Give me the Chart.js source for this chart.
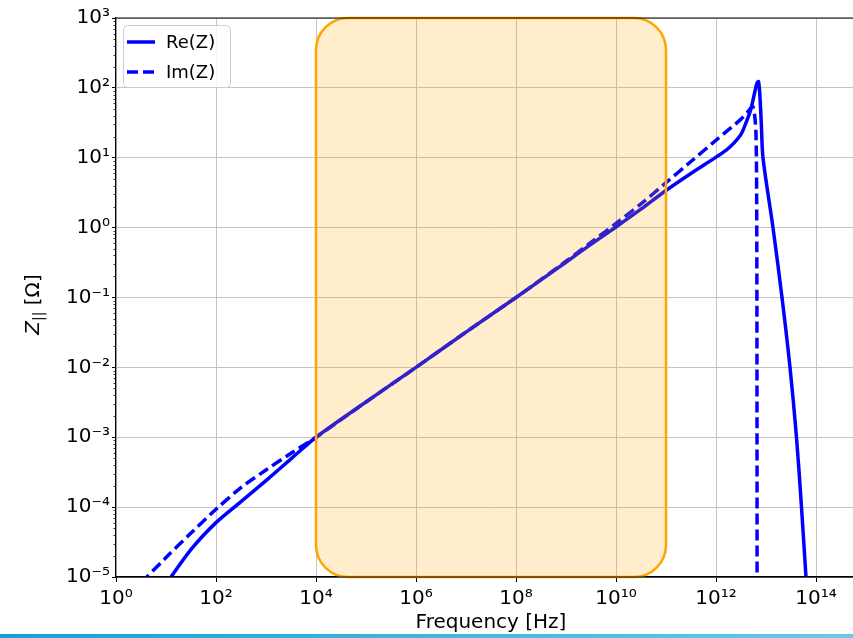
<!DOCTYPE html>
<html>
<head>
<meta charset="utf-8">
<title>Longitudinal impedance</title>
<script src="https://cdn.jsdelivr.net/npm/chart.js@4.4.1/dist/chart.umd.min.js"></script>
<style>
  html, body { margin: 0; padding: 0; background: #fff; overflow: hidden; }
  #wrap { position: relative; width: 853px; height: 638px; overflow: hidden; }
  #wrap canvas { position: absolute; left: 0; top: 0; }
  #strip { position: absolute; left: 0; right: 0; bottom: 0; height: 4px;
           background: linear-gradient(to right, #17a0d4, #66cbea); }
</style>
</head>
<body>
<div id="wrap">
  <canvas id="impChart" width="900" height="638"></canvas>
  <div id="strip"></div>
</div>
<script>
// impedance curves, Z in Ohm vs frequency in Hz
const reFreq = [10, 32, 100, 316, 1e3, 3.16e3, 1e4, 1e5, 1e6, 1e7, 1e8, 1e9,
                3.2e9, 1e10, 3.2e10, 1e11, 3.2e11, 1e12, 1.6e12, 2.2e12, 3.2e12,
                4.0e12, 5.0e12, 6.0e12, 6.6e12, 7.1e12, 7.6e12, 8.1e12, 8.7e12,
                1.38e13, 2.09e13, 3.02e13, 4.07e13, 5.13e13, 6.31e13, 7.2e13];
const reVals = [7.9e-6, 2.5e-5, 6.0e-5, 1.2e-4, 2.4e-4, 4.9e-4, 1.0e-3, 3.2e-3,
                1.0e-2, 3.2e-2, 0.10, 0.32, 0.58, 1.02, 1.85, 3.4, 6.0, 10.2,
                12.9, 15.8, 22, 32, 50, 89, 117, 123, 71, 28, 10,
                1.0, 0.1, 0.01, 1e-3, 1e-4, 1e-5, 2.8e-6];

const imFreq = [3.2, 10, 32, 100, 316, 1e3, 3.16e3, 1e4, 1e5, 1e6, 1e7, 1e8, 1e9,
                3.2e9, 1e10, 3.2e10, 1e11, 3.2e11, 1e12, 2.0e12, 3.2e12, 4.5e12,
                5.4e12, 5.9e12, 6.3e12, 6.5e12, 6.6e12, 6.64e12];
const imVals = [8.3e-6, 1.9e-5, 4.3e-5, 9.3e-5, 1.9e-4, 3.4e-4, 5.9e-4, 1.0e-3,
                3.2e-3, 1.0e-2, 3.2e-2, 0.10, 0.33, 0.62, 1.15, 2.2, 4.4, 8.9, 17.8,
                27, 36, 47, 54, 42, 22, 3.2, 1e-2, 1e-7];

// highlighted frequency band
const bandRange = [1e4, 1e11];

const xTickValues = [1, 1e2, 1e4, 1e6, 1e8, 1e10, 1e12, 1e14];
const yTickValues = [1e-5, 1e-4, 1e-3, 1e-2, 1e-1, 1, 1e1, 1e2, 1e3];

const FONT = "'DejaVu Sans', sans-serif";
const BLUE = '#0000ff';

const sup = { '0': '⁰', '1': '¹', '2': '²', '3': '³', '4': '⁴', '5': '⁵',
              '6': '⁶', '7': '⁷', '8': '⁸', '9': '⁹', '-': '⁻' };
function pow10Label(v) {
    const e = Math.round(Math.log10(v));
    return '10' + String(e).split('').map(c => sup[c]).join('');
}

function toPoints(xs, ys) {
    return xs.map((x, i) => ({ x: x, y: ys[i] }));
}

const decor = {
    id: 'decor',
    afterDatasetsDraw(chart) {
        // translucent orange band over the curves
        const { ctx, chartArea: a, scales: { x } } = chart;
        const x1 = x.getPixelForValue(bandRange[0]);
        const x2 = x.getPixelForValue(bandRange[1]);
        ctx.save();
        ctx.beginPath();
        ctx.roundRect(x1, a.top, x2 - x1, a.bottom - a.top, 32);
        ctx.fillStyle = 'rgba(255,165,0,0.2)';
        ctx.fill();
        ctx.lineWidth = 2.5;
        ctx.strokeStyle = '#ffa500';
        ctx.stroke();
        ctx.restore();
    },
    afterDraw(chart) {
        const { ctx, chartArea: a, scales: { y } } = chart;
        ctx.save();

        // spines
        ctx.strokeStyle = '#000';
        ctx.lineWidth = 1.2;
        ctx.beginPath();
        ctx.moveTo(a.left, a.top); ctx.lineTo(a.right, a.top);
        ctx.moveTo(a.left, a.bottom); ctx.lineTo(a.right, a.bottom);
        ctx.stroke();

        // minor ticks on the log y axis
        ctx.lineWidth = 0.8;
        ctx.beginPath();
        for (let e = -5; e < 3; e++) {
            for (let m = 2; m <= 9; m++) {
                const py = Math.round(y.getPixelForValue(m * Math.pow(10, e))) + 0.5;
                ctx.moveTo(a.left - 2.5, py);
                ctx.lineTo(a.left, py);
            }
        }
        ctx.stroke();

        // legend
        const lx = a.left + 7, ly = a.top + 7;
        ctx.beginPath();
        ctx.roundRect(lx + 0.5, ly + 0.5, 107, 62, 4);
        ctx.fillStyle = 'rgba(255,255,255,0.8)';
        ctx.fill();
        ctx.strokeStyle = '#cccccc';
        ctx.lineWidth = 1;
        ctx.stroke();

        const items = chart.data.datasets;
        ctx.font = '18px ' + FONT;
        ctx.textBaseline = 'middle';
        ctx.fillStyle = '#000';
        items.forEach((ds, i) => {
            const yy = ly + 17 + i * 30;
            ctx.beginPath();
            ctx.setLineDash(ds.borderDash || []);
            ctx.strokeStyle = ds.borderColor;
            ctx.lineWidth = ds.borderWidth;
            ctx.moveTo(lx + 4, yy);
            ctx.lineTo(lx + 32, yy);
            ctx.stroke();
            ctx.setLineDash([]);
            ctx.fillText(ds.label, lx + 43, yy + 1);
        });

        // y axis title: Z with a parallel subscript
        ctx.translate(39, (a.top + a.bottom) / 2 + 7);
        ctx.rotate(-Math.PI / 2);
        ctx.textBaseline = 'alphabetic';
        const big = '20px ' + FONT, small = '14px ' + FONT, ital = 'italic 20px ' + FONT;
        ctx.font = ital; const wZ = ctx.measureText('Z').width;
        ctx.font = small; const wS = ctx.measureText('||').width;
        ctx.font = big; const wR = ctx.measureText(' [Ω]').width;
        let cx = -(wZ + wS + wR) / 2;
        ctx.font = ital; ctx.fillText('Z', cx, 0); cx += wZ;
        ctx.font = small; ctx.fillText('||', cx, 4); cx += wS;
        ctx.font = big; ctx.fillText(' [Ω]', cx, 0);

        ctx.restore();
    }
};

const ctx = document.getElementById('impChart').getContext('2d');
const chart = new Chart(ctx, {
    type: 'line',
    data: {
        datasets: [{
            label: 'Re(Z)',
            data: toPoints(reFreq, reVals),
            borderColor: BLUE,
            borderWidth: 3.5,
            borderJoinStyle: 'round',
            pointRadius: 0,
            tension: 0.3,
            fill: false,
        }, {
            label: 'Im(Z)',
            data: toPoints(imFreq, imVals),
            borderColor: BLUE,
            borderWidth: 3.5,
            borderDash: [11, 5],
            borderJoinStyle: 'round',
            pointRadius: 0,
            tension: 0.3,
            fill: false,
        }]
    },
    options: {
        responsive: false,
        animation: false,
        layout: { padding: { top: 18, right: 34, left: 0, bottom: 0 } },
        plugins: { legend: { display: false }, tooltip: { enabled: false } },
        scales: {
            x: {
                type: 'logarithmic',
                min: 1,
                max: 1e15,
                afterBuildTicks: s => { s.ticks = xTickValues.map(v => ({ value: v })); },
                afterFit: s => { s.height = 61; },
                grid: { color: '#c4c4c4', lineWidth: 1, tickColor: '#000', tickLength: 5 },
                border: { color: '#000', width: 1.2 },
                ticks: {
                    callback: v => pow10Label(v),
                    font: { family: FONT, size: 20 },
                    color: '#000',
                    padding: 5,
                    maxRotation: 0,
                    autoSkip: false,
                },
                title: {
                    display: true,
                    text: 'Frequency [Hz]',
                    font: { family: FONT, size: 20 },
                    color: '#000',
                    padding: { top: 0, bottom: 3 },
                },
            },
            y: {
                type: 'logarithmic',
                min: 1e-5,
                max: 1e3,
                afterBuildTicks: s => { s.ticks = yTickValues.map(v => ({ value: v })); },
                afterFit: s => { s.width = 116; },
                grid: { color: '#c4c4c4', lineWidth: 1, tickColor: '#000', tickLength: 4 },
                border: { color: '#000', width: 1.2 },
                ticks: {
                    callback: v => pow10Label(v),
                    font: { family: FONT, size: 20 },
                    color: '#000',
                    padding: 2,
                },
            },
        }
    },
    plugins: [decor]
});
</script>
</body>
</html>
